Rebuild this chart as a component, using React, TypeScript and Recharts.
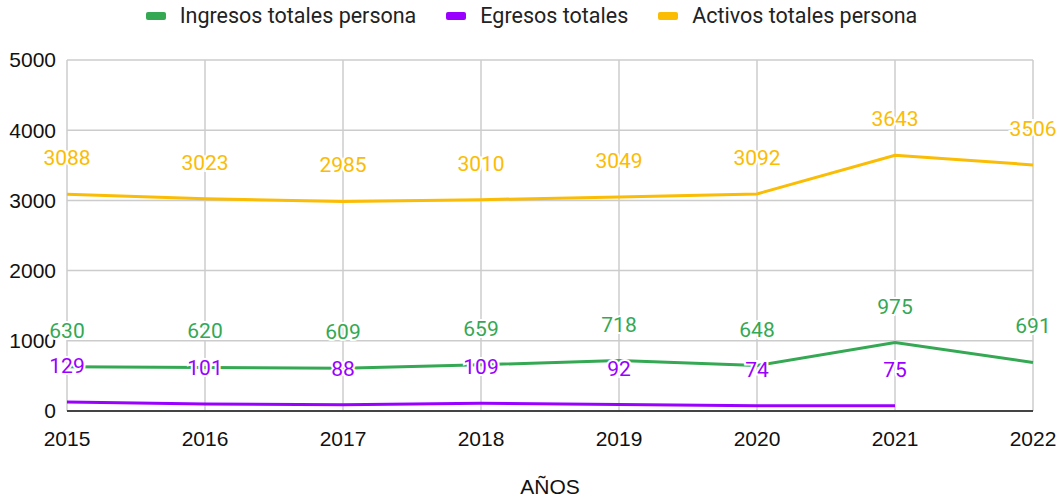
import { LineChart, Line, XAxis, YAxis, CartesianGrid, LabelList } from 'recharts';

const YEARS = ['2015', '2016', '2017', '2018', '2019', '2020', '2021', '2022'];
const INGRESOS = [630, 620, 609, 659, 718, 648, 975, 691];
const EGRESOS: (number | null)[] = [129, 101, 88, 109, 92, 74, 75, null];
const ACTIVOS = [3088, 3023, 2985, 3010, 3049, 3092, 3643, 3506];
const Y_TICKS = [0, 1000, 2000, 3000, 4000, 5000];

const SERIES = [
  { key: 'ingresos', name: 'Ingresos totales persona', color: '#34a853' },
  { key: 'egresos', name: 'Egresos totales', color: '#9900ff' },
  { key: 'activos', name: 'Activos totales persona', color: '#fbbc04' },
];

const data = YEARS.map((year, i) => ({
  year,
  ingresos: INGRESOS[i],
  egresos: EGRESOS[i],
  activos: ACTIVOS[i],
}));

const AXIS_FONT = 'Liberation Sans, Arial, sans-serif';

const labelFor = (color: string) => (props: any) => {
  const { x, y, value } = props;
  if (value == null) return null;
  return (
    <text
      x={x}
      y={y - 36}
      textAnchor="middle"
      dominantBaseline="central"
      fill={color}
      stroke="#fff"
      strokeWidth={4}
      paintOrder="stroke"
      fontSize={21}
      fontFamily="Roboto, sans-serif"
    >
      {value}
    </text>
  );
};

export default function App() {
  return (
    <div style={{ position: 'absolute', left: 0, top: 0, width: 1063, height: 500, background: '#fff' }}>
      {/* legend */}
      <div
        style={{
          position: 'absolute',
          top: 3,
          left: 0,
          width: 1063,
          display: 'flex',
          justifyContent: 'center',
          gap: 30,
          fontFamily: 'Roboto, sans-serif',
          fontSize: 21.5,
          color: '#222',
          lineHeight: '26px',
        }}
      >
        {SERIES.map((s) => (
          <div key={s.key} style={{ display: 'flex', alignItems: 'center', gap: 14 }}>
            <span style={{ width: 20, height: 8, borderRadius: 2, background: s.color, display: 'inline-block' }} />
            <span>{s.name}</span>
          </div>
        ))}
      </div>
      <LineChart width={1063} height={500} data={data} margin={{ top: 60, right: 30, bottom: 0, left: 0 }}>
        <CartesianGrid stroke="#cccccc" strokeWidth={1.5} />
        <XAxis
          dataKey="year"
          height={89}
          tickLine={false}
          tickSize={0}
          tickMargin={20}
          stroke="#444"
          strokeWidth={2}
          tick={{ fill: '#111', fontSize: 21, fontFamily: AXIS_FONT }}
          interval={0}
          label={{ value: 'AÑOS', position: 'insideBottom', offset: 6, fill: '#111', fontSize: 21, fontFamily: AXIS_FONT }}
        />
        <YAxis
          width={67}
          domain={[0, 5000]}
          ticks={Y_TICKS}
          axisLine={false}
          tickLine={false}
          tickSize={0}
          tickMargin={11}
          tick={{ fill: '#111', fontSize: 21, fontFamily: AXIS_FONT }}
        />
        {SERIES.map((s) => (
          <Line
            key={s.key}
            type="linear"
            dataKey={s.key}
            name={s.name}
            stroke={s.color}
            strokeWidth={3}
            dot={false}
            activeDot={false}
            isAnimationActive={false}
          >
            <LabelList dataKey={s.key} content={labelFor(s.color)} />
          </Line>
        ))}
      </LineChart>
    </div>
  );
}
